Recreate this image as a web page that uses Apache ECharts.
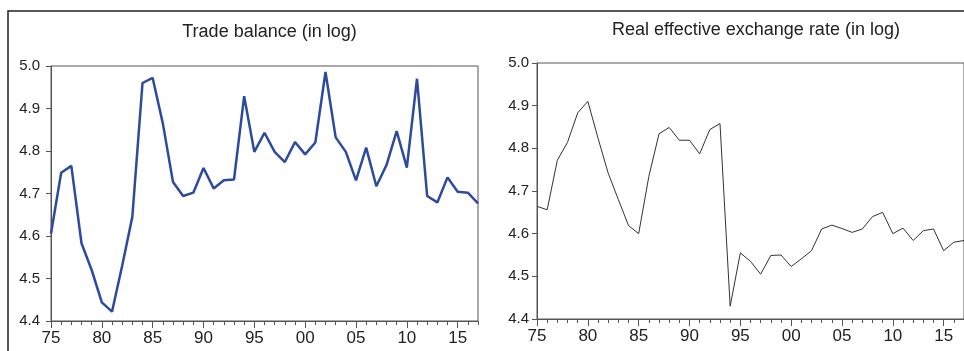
<!DOCTYPE html>
<html>
<head>
<meta charset="utf-8">
<script src="https://cdn.jsdelivr.net/npm/echarts@6/dist/echarts.min.js"></script>
<style>
html,body{margin:0;padding:0;background:#fff;}
#c{width:964px;height:351px;}
</style>
</head>
<body>
<div id="c"></div>
<script>
var years = [];
for (var y = 1975; y <= 2017; y++) years.push(String(y));

var tradeBalance = [4.606, 4.749, 4.765, 4.583, 4.520, 4.444, 4.422, 4.530, 4.645, 4.960,
  4.972, 4.865, 4.727, 4.694, 4.702, 4.760, 4.712, 4.731, 4.733, 4.929,
  4.798, 4.843, 4.798, 4.774, 4.821, 4.792, 4.820, 4.986, 4.832, 4.798,
  4.731, 4.808, 4.717, 4.767, 4.847, 4.761, 4.970, 4.694, 4.679, 4.738,
  4.704, 4.702, 4.677];

var reer = [4.664, 4.656, 4.772, 4.814, 4.883, 4.910, 4.824, 4.742, 4.680, 4.619,
  4.600, 4.734, 4.834, 4.849, 4.819, 4.819, 4.787, 4.844, 4.858, 4.430,
  4.555, 4.535, 4.505, 4.549, 4.550, 4.523, 4.541, 4.560, 4.611, 4.620,
  4.612, 4.603, 4.611, 4.640, 4.650, 4.600, 4.613, 4.584, 4.607, 4.611,
  4.560, 4.580, 4.584];

var titles = ['Trade balance (in log)', 'Real effective exchange rate (in log)'];
var yTicks = {min: 4.4, max: 5.0, interval: 0.1};

var FONT = 'Liberation Sans, Arial, sans-serif';
var axisColor = '#555';

var grids = [
  {left: 51, top: 66, width: 427, height: 255},
  {left: 537, top: 63, width: 428, height: 256}
];

function xAxes(gi) {
  return [
    {
      type: 'category', gridIndex: gi, data: years, boundaryGap: false, position: 'bottom',
      axisLine: {show: true, lineStyle: {color: axisColor, width: 1}},
      axisTick: {show: true, interval: 0, length: 4, lineStyle: {color: axisColor}},
      axisLabel: {interval: 4, margin: 9, color: '#222', fontSize: 17, fontFamily: FONT,
        formatter: function (v) { return v.slice(2); }},
      splitLine: {show: false}
    },
    {
      type: 'category', gridIndex: gi, data: years, boundaryGap: false, position: 'bottom',
      axisLine: {show: false},
      axisTick: {show: true, interval: 4, length: 7, lineStyle: {color: axisColor}},
      axisLabel: {show: false},
      splitLine: {show: false}
    }
  ];
}

function yAxis(gi, margin) {
  return {
    type: 'value', gridIndex: gi, min: yTicks.min, max: yTicks.max, interval: yTicks.interval,
    axisLine: {show: true, lineStyle: {color: axisColor, width: 1}},
    axisTick: {show: true, length: 5, lineStyle: {color: axisColor}},
    axisLabel: {margin: margin, color: '#222', fontSize: 15, fontFamily: FONT,
      formatter: function (v) { return v.toFixed(1); }},
    splitLine: {show: false}
  };
}

var chart = echarts.init(document.getElementById('c'), null, {renderer: 'canvas'});
chart.setOption({
  backgroundColor: '#fff',
  animation: false,
  title: [
    {text: titles[0], left: 264.5, top: 18, textAlign: 'center',
      textStyle: {fontSize: 18, fontWeight: 'normal', color: '#222', fontFamily: FONT}},
    {text: titles[1], left: 751, top: 16, textAlign: 'center',
      textStyle: {fontSize: 18, fontWeight: 'normal', color: '#222', fontFamily: FONT}}
  ],
  grid: grids.map(function (g) {
    return Object.assign({show: true, borderColor: axisColor, borderWidth: 1, backgroundColor: 'transparent'}, g);
  }),
  xAxis: xAxes(0).concat(xAxes(1)),
  yAxis: [yAxis(0, 11), yAxis(1, 8)],
  graphic: [
    {type: 'rect', shape: {x: 8, y: 11, width: 1000, height: 400}, silent: true,
      style: {fill: 'none', stroke: '#222', lineWidth: 1.5}}
  ],
  series: [
    {type: 'line', xAxisIndex: 0, yAxisIndex: 0, data: tradeBalance, symbol: 'none',
      lineStyle: {color: '#2c4a9e', width: 2.5}},
    {type: 'line', xAxisIndex: 2, yAxisIndex: 1, data: reer, symbol: 'none',
      lineStyle: {color: '#333', width: 1}}
  ]
});
</script>
</body>
</html>
